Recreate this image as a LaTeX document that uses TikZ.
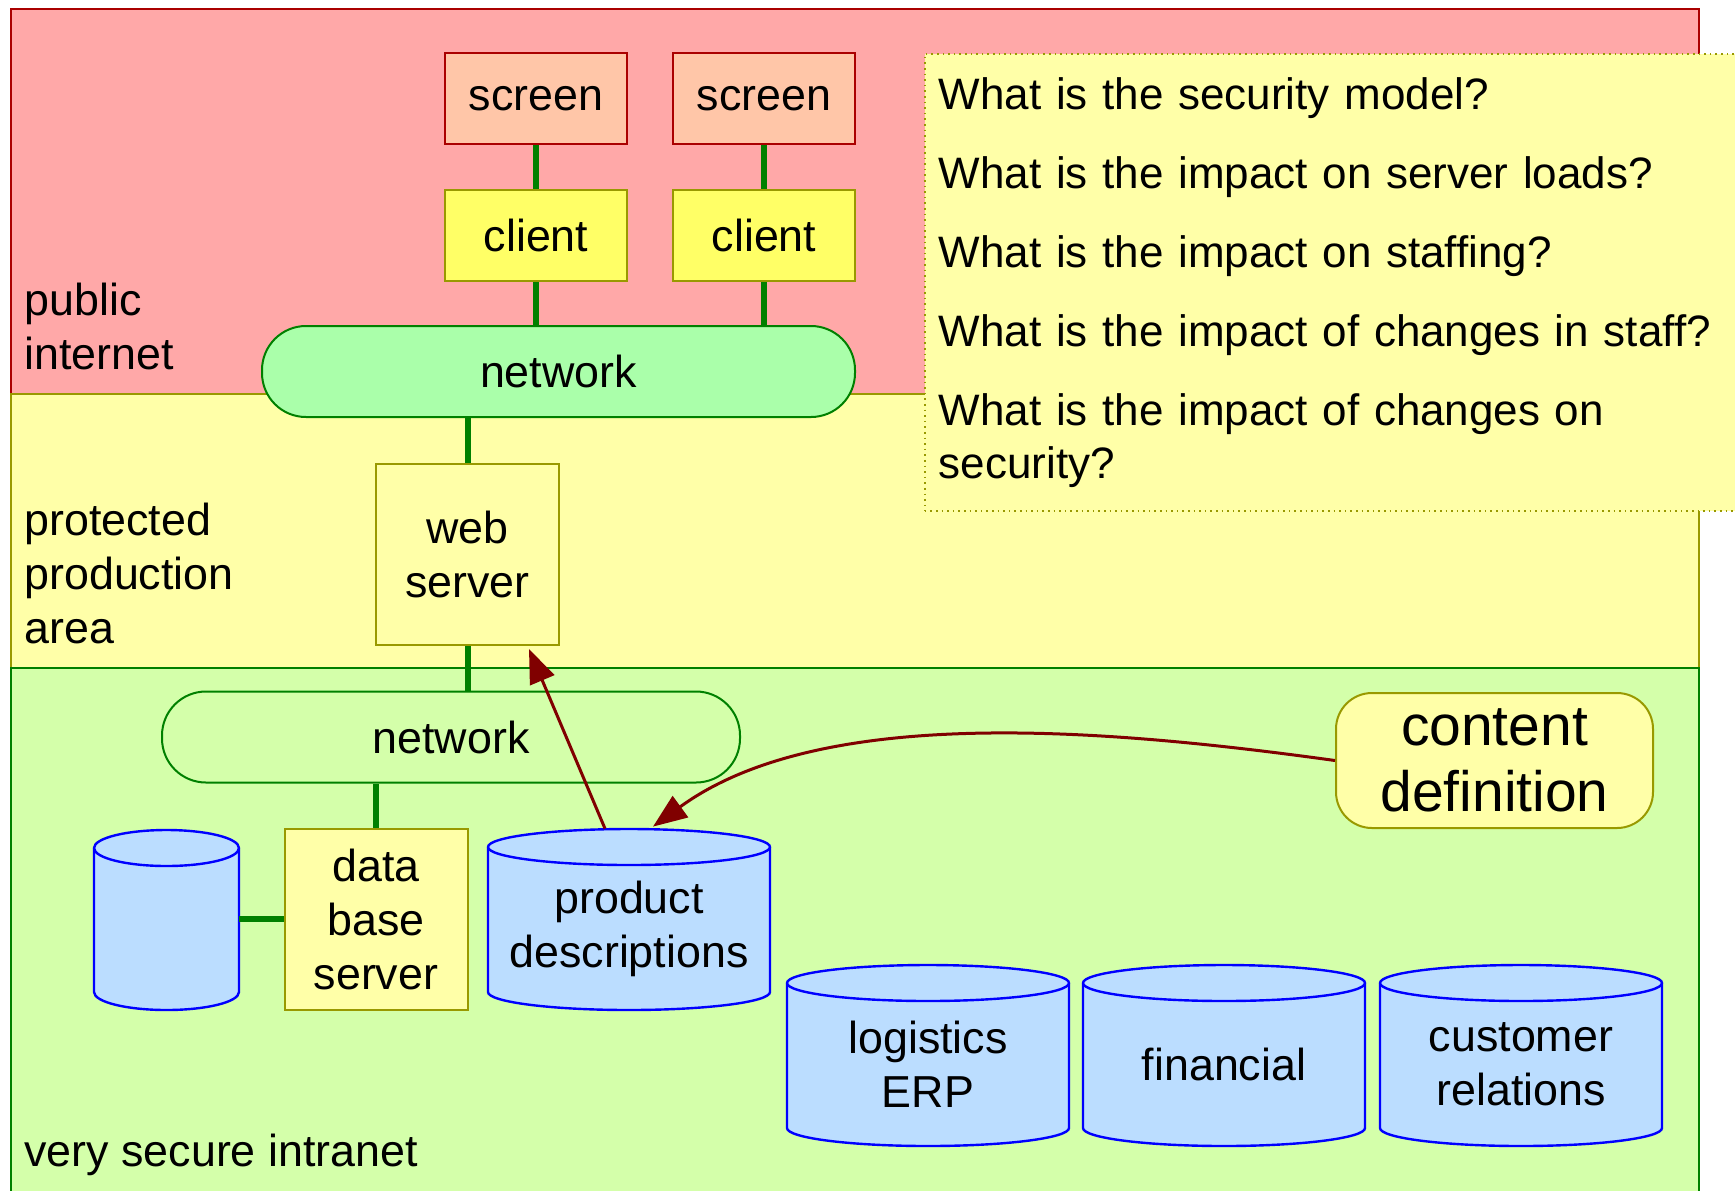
\documentclass[tikz,border=0pt]{standalone}
\usepackage{fontspec}
\setmainfont{Liberation Sans}
\usetikzlibrary{arrows.meta,calc}

\definecolor{zonepink}{RGB}{255,168,168}
\definecolor{zonered}{RGB}{170,0,0}
\definecolor{zoneyel}{RGB}{255,255,168}
\definecolor{oliveline}{RGB}{153,153,0}
\definecolor{zonegreen}{RGB}{212,255,170}
\definecolor{netgreen}{RGB}{170,255,170}
\definecolor{linkgreen}{RGB}{0,128,0}
\definecolor{screenfill}{RGB}{255,198,168}
\definecolor{clientfill}{RGB}{255,255,102}
\definecolor{canfill}{RGB}{187,221,255}
\definecolor{canblue}{RGB}{0,0,255}
\definecolor{arrowred}{RGB}{128,0,0}

\tikzset{
  lbl/.style={font=\fontsize{22.4}{27}\selectfont},
  zonelabel/.style={lbl, anchor=west, align=left, inner sep=0pt},
  screenbox/.style={lbl, draw=zonered, fill=screenfill, line width=1pt, minimum width=91pt, minimum height=45.5pt, inner sep=0pt},
  clientbox/.style={screenbox, draw=oliveline, fill=clientfill},
  serverbox/.style={lbl, draw=oliveline, fill=zoneyel, line width=1pt, minimum width=91.5pt, minimum height=90.5pt, align=center, inner sep=0pt},
  netbox/.style={lbl, draw=linkgreen, line width=1pt, rounded corners=22pt, minimum height=45.5pt, inner sep=0pt},
  dbcan/.style={lbl, minimum height=81.5pt, align=center, inner sep=0pt},
  canline/.style={draw=canblue, fill=canfill, line width=1.2pt},
  defbox/.style={font=\fontsize{28.5}{33}\selectfont, draw=oliveline, fill=zoneyel, line width=1pt, rounded corners=18pt, minimum width=158.5pt, minimum height=67.5pt, align=center, inner sep=0pt},
  qbox/.style={font=\fontsize{22}{26.5}\selectfont, draw=oliveline, dotted, line width=0.8pt, fill=zoneyel, anchor=north west, minimum width=410pt, minimum height=228.5pt, text width=396pt, align=left, inner xsep=6.5pt},
  link/.style={draw=linkgreen, line width=3pt},
  flow/.style={draw=arrowred, line width=1.5pt, -{Triangle[length=17pt,width=13pt]}},
}

% can: centre x, centre y, half width, half height (all in px)
\newcommand\drawcan[4]{%
  \filldraw [canline] ({#1-#3},{#2-#4+18}) -- ({#1-#3},{#2+#4-18})
    arc[start angle=180, end angle=0, x radius={#3*0.5pt}, y radius=9pt]
    -- ({#1+#3},{#2-#4+18})
    arc[start angle=0, end angle=-180, x radius={#3*0.5pt}, y radius=9pt] -- cycle;
  \draw [canline, fill=none] ({#1-#3},{#2-#4+18})
    arc[start angle=180, end angle=0, x radius={#3*0.5pt}, y radius=9pt];
}

\begin{document}
\begin{tikzpicture}[x=0.5pt,y=0.5pt,yscale=-1,xscale=1]
\path[use as bounding box] (0,0) rectangle (1735,1190);

%Shape: Rectangle [zones]
\draw [draw=zonered, fill=zonepink, line width=1pt] (11,9) rectangle (1699,394);
\draw [draw=oliveline, fill=zoneyel, line width=1pt] (11,394) rectangle (1699,668);
\draw [draw=linkgreen, fill=zonegreen, line width=1pt] (11,668) rectangle (1699,1200);

% Text Node
\node (pubLbl) [zonelabel] at (24,326.5) {public\\internet};
% Text Node
\node (protLbl) [zonelabel] at (24,573.5) {protected\\production\\area};
% Text Node
\node (secLbl) [zonelabel] at (24,1155) {very secure intranet};

% Text Node
\node (questions) [qbox] at (924,53) {What is the security model?\\[13pt]
What is the impact on server loads?\\[13pt]
What is the impact on staffing?\\[13pt]
What is the impact of changes in staff?\\[13pt]
What is the impact of changes on\\security?};

%Shape: Rectangle
\node (scrA) [screenbox] at (536,98.5) {screen};
\node (scrB) [screenbox] at (764,98.5) {screen};
\node (cliA) [clientbox] at (536,235.5) {client};
\node (cliB) [clientbox] at (764,235.5) {client};
%Rounded Rect
\node (netPub) [netbox, fill=netgreen, minimum width=296.5pt] at (558.5,371.5) {network};
\node (web) [serverbox] at (467.5,554.5) {web\\server};
\node (netSec) [netbox, minimum width=289pt] at (451,737) {network};
\node (dbs) [serverbox] at (376,919) {data\\base\\server};

%Shape: Can
\drawcan{166.5}{920}{72.5}{90}
\node (dbA) [dbcan, minimum width=72.5pt] at (166.5,929) {};
\drawcan{629}{919.5}{141}{90.5}
\node (prod) [dbcan, minimum width=141pt] at (629,928.5) {product\\descriptions};
\drawcan{928}{1055.5}{141}{90.5}
\node (erp) [dbcan, minimum width=141pt] at (928,1064.5) {logistics\\ERP};
\drawcan{1224}{1055.5}{141}{90.5}
\node (fin) [dbcan, minimum width=141pt] at (1224,1064.5) {financial};
\drawcan{1521}{1055.5}{141}{90.5}
\node (crm) [dbcan, minimum width=141pt] at (1521,1064.5) {customer\\relations};

%Rounded Rect
\node (cdef) [defbox] at (1494.5,760.5) {content\\definition};

%Straight Lines
\draw [link] (scrA) -- (cliA);
\draw [link] (scrB) -- (cliB);
\draw [link] (cliA.south) -- (cliA.south |- netPub.north);
\draw [link] (cliB.south) -- (cliB.south |- netPub.north);
\draw [link] (web.north) -- (web.north |- netPub.south);
\draw [link] (web.south) -- (web.south |- netSec.north);
\draw [link] (dbs.north) -- (dbs.north |- netSec.south);
\draw [link] (dbs.west) -- (dbs.west -| dbA.east);

%Curve Lines
\coordinate (prodOut) at ($(prod.north)+(-24,-18)$);
\coordinate (prodIn) at ($(prod.north)+(24,-20)$);
\coordinate (webIn) at ($(web.south east)+(-31,3)$);
\draw [flow] (prodOut) -- (webIn);
\draw [flow] (cdef.west) .. controls (1100,728) and (820,705) .. (prodIn);

\end{tikzpicture}
\end{document}
